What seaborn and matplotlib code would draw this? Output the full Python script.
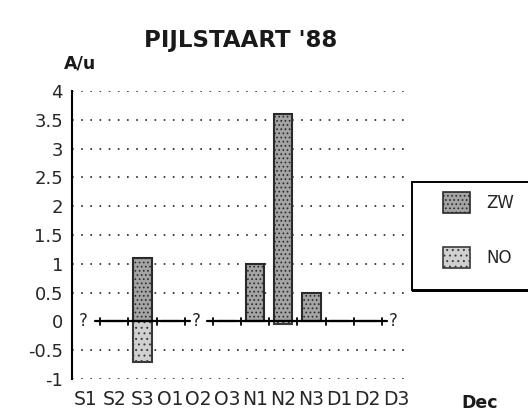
import numpy as np
import pandas as pd
import matplotlib
matplotlib.use("Agg")
import matplotlib.pyplot as plt
import seaborn as sns
from matplotlib.patches import Patch, Rectangle

# Decade periods (Sep..Dec, three decades per month)
periods = ["S1", "S2", "S3", "O1", "O2", "O3", "N1", "N2", "N3", "D1", "D2", "D3"]
# Birds per hour for the two flight directions; NaN = no count
zw_values = [np.nan, 0.0, 1.1, 0.0, np.nan, 0.0, 1.0, 3.6, 0.5, 0.0, 0.0, np.nan]
no_values = [np.nan, 0.0, -0.7, 0.0, np.nan, 0.0, 0.0, -0.05, 0.0, 0.0, 0.0, np.nan]
series_names = ["ZW", "NO"]
y_ticks = [4, 3.5, 3, 2.5, 2, 1.5, 1, 0.5, 0, -0.5, -1]
y_tick_labels = ["4", "3.5", "3", "2.5", "2", "1.5", "1", "0.5", "0", "-0.5", "-1"]

df = pd.DataFrame({"period": periods, "ZW": zw_values, "NO": no_values})

sns.set_style("white")
plt.rcParams["font.family"] = ["DejaVu Sans"]
plt.rcParams["hatch.linewidth"] = 0.7

W, H = 528, 420
fig = plt.figure(figsize=(W / 100, H / 100), dpi=100)
ax = fig.add_axes([72 / W, 1 - 379 / H, (410 - 72) / W, (379 - 91) / H])

styles = {
    "ZW": dict(face="#a4a4a4", edge="#2a2a2a", hatch="...."),
    "NO": dict(face="#d0d0d0", edge="#3a3a3a", hatch="..."),
}

for name in series_names:
    n_before = len(ax.patches)
    sns.barplot(data=df, x="period", y=name, order=periods, ax=ax,
                width=0.65, color=styles[name]["face"], errorbar=None)
    for p in ax.patches[n_before:]:
        p.set_facecolor(styles[name]["face"])
        p.set_edgecolor(styles[name]["edge"])
        p.set_hatch(styles[name]["hatch"])
        p.set_linewidth(1.5)
        p.set_zorder(3)

ax.set_xlim(-0.5, len(periods) - 0.5)
ax.set_ylim(-1, 4)

# dotted horizontal grid (except at zero)
for yv in y_ticks:
    if yv != 0:
        ax.axhline(yv, color="#222222", linestyle=(0, (1, 4.5)), linewidth=1.2, zorder=1)

# zero baseline, broken where the counts are missing
missing = [i for i, v in enumerate(zw_values) if np.isnan(v)]
for a, b in zip(missing[:-1], missing[1:]):
    x0, x1 = a + 0.3, b - 0.3
    ax.plot([x0, x1], [0, 0], color="black", linewidth=1.6, zorder=4)
    for k in np.arange(a + 0.5, b, 1.0):
        ax.plot([k, k], [-0.06, 0.06], color="black", linewidth=1.3, zorder=4)
for i in missing:
    ax.text(i - 0.1, 0, "?", ha="center", va="center", fontsize=12, color="#222222", zorder=5)

# axes styling
for s in ["top", "right", "bottom"]:
    ax.spines[s].set_visible(False)
ax.spines["left"].set_color("black")
ax.spines["left"].set_linewidth(1.5)
ax.set_yticks(y_ticks)
ax.set_yticklabels(y_tick_labels, fontsize=13)
ax.tick_params(axis="y", direction="inout", length=9, width=1.3, color="black", pad=2)
ax.set_xticks(range(len(periods)))
ax.set_xticklabels(periods, fontsize=13.5)
ax.tick_params(axis="x", length=0, pad=8)
ax.set_xlabel("")
ax.set_ylabel("")

fig.text(241 / W, 1 - 40 / H, "PIJLSTAART '88", ha="center", va="center",
         fontsize=16.5, fontweight="bold", color="#1a1a1a")
fig.text(80 / W, 1 - 63 / H, "A/u", ha="center", va="center",
         fontsize=12.5, fontweight="bold", color="#1a1a1a")
fig.text(480 / W, 1 - 403 / H, "Dec", ha="center", va="center",
         fontsize=12.5, fontweight="bold", color="#1a1a1a")

# legend box running off the right edge
fig.patches.append(Rectangle((412 / W, 1 - 290 / H), 130 / W, 108 / H,
                             transform=fig.transFigure, facecolor="white",
                             edgecolor="black", linewidth=1.4, zorder=5))
fig.patches.append(Rectangle((412 / W, 1 - 292 / H), 130 / W, 2 / H,
                             transform=fig.transFigure, facecolor="black",
                             edgecolor="none", zorder=5))
handles = [Patch(facecolor=styles[n]["face"], edgecolor=styles[n]["edge"],
                 hatch=styles[n]["hatch"], linewidth=1.2) for n in series_names]
leg = fig.legend(handles, series_names, loc="upper left",
                 bbox_to_anchor=(443 / W, 1 - 192 / H),
                 fontsize=12, frameon=False,
                 handlelength=1.6, handleheight=1.6, handletextpad=1.0,
                 labelspacing=2.0, borderpad=0, borderaxespad=0)
leg.set_zorder(6)

fig.savefig("out.png", dpi=100)
